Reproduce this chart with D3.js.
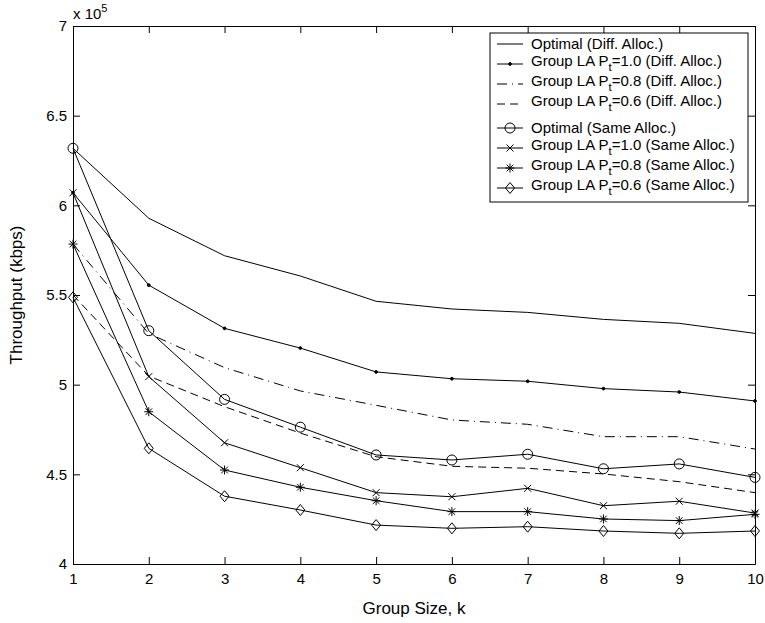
<!DOCTYPE html>
<html lang="en">
<head>
    <title>Throughput vs Group Size</title>
    <meta charset="utf-8"/>
    <script src="https://d3js.org/d3.v7.min.js"></script>
    <style>
        body { margin: 0; background: #fff; }
        svg { display: block; font-family: "Liberation Sans", Arial, Helvetica, sans-serif; }
    </style>
</head>
<body>

<svg width="765" height="623"></svg>

<script type="text/javascript">

    // datos (kbps)
    const groupSize = [1, 2, 3, 4, 5, 6, 7, 8, 9, 10];

    const optimalDiff = [631800, 592800, 571900, 560600, 546500, 542200, 540300, 536400, 534200, 528600];
    const la10Diff    = [607000, 555500, 531400, 520400, 507100, 503300, 501900, 497800, 495900, 490900];
    const la08Diff    = [578400, 528500, 509500, 496500, 488500, 480300, 477900, 471000, 471000, 464100];
    const la06Diff    = [550000, 504800, 487700, 473000, 459800, 454500, 453400, 450200, 445900, 439800];

    const optimalSame = [631800, 530100, 491800, 476300, 460800, 458000, 461200, 453100, 455800, 448300];
    const la10Same    = [607000, 504500, 467600, 453700, 439800, 437500, 442200, 432500, 435000, 428400];
    const la08Same    = [578400, 484900, 452400, 442800, 435300, 429200, 429200, 425100, 424200, 427700];
    const la06Same    = [548700, 464500, 437800, 430100, 421700, 419900, 420800, 418400, 417100, 418400];

    const yTicks = [400000, 450000, 500000, 550000, 600000, 650000, 700000];

    const legendLabels = [
        "Optimal (Diff. Alloc.)",
        "Group LA P_t=1.0 (Diff. Alloc.)",
        "Group LA P_t=0.8 (Diff. Alloc.)",
        "Group LA P_t=0.6 (Diff. Alloc.)",
        "Optimal (Same Alloc.)",
        "Group LA P_t=1.0 (Same Alloc.)",
        "Group LA P_t=0.8 (Same Alloc.)",
        "Group LA P_t=0.6 (Same Alloc.)"
    ];

    // valores de layout (ojo: "top" ya existe en window)
    const plotLeft = 73, plotRight = 755, plotTop = 26, plotBottom = 564;
    const tick = 7;

    const svg = d3.select("svg");

    svg.append("rect")
        .attr("width", 765).attr("height", 623)
        .attr("fill", "#fff");

    let xScale = d3.scaleLinear().domain([1, 10]).range([plotLeft, plotRight]);
    let yScale = d3.scaleLinear().domain([400000, 700000]).range([plotBottom, plotTop]);

    // ejes, ticks hacia adentro como matlab
    function styleAxis(g) {
        g.attr("font-family", null).attr("font-size", 15);
        g.selectAll("path, line").attr("stroke", "#000").attr("stroke-width", 1);
        g.selectAll("text").attr("fill", "#000");
    }

    svg.append("g")
        .attr("transform", "translate(0," + plotBottom + ")")
        .call(d3.axisBottom(xScale).tickValues(groupSize).tickFormat(d3.format("d"))
            .tickSizeInner(-tick).tickSizeOuter(0).tickPadding(9))
        .call(styleAxis);

    svg.append("g")
        .attr("transform", "translate(0," + plotTop + ")")
        .call(d3.axisTop(xScale).tickValues(groupSize).tickFormat("")
            .tickSizeInner(-tick).tickSizeOuter(0))
        .call(styleAxis);

    svg.append("g")
        .attr("transform", "translate(" + plotLeft + ",0)")
        .call(d3.axisLeft(yScale).tickValues(yTicks).tickFormat(d => String(d / 1e5))
            .tickSizeInner(-tick).tickSizeOuter(0).tickPadding(6))
        .call(styleAxis);

    svg.append("g")
        .attr("transform", "translate(" + plotRight + ",0)")
        .call(d3.axisRight(yScale).tickValues(yTicks).tickFormat("")
            .tickSizeInner(-tick).tickSizeOuter(0))
        .call(styleAxis);

    // multiplicador x 10^5
    let mult = svg.append("text")
        .attr("x", plotLeft).attr("y", 19)
        .attr("font-size", 15)
        .text("x 10");
    mult.append("tspan").attr("dy", -7).attr("font-size", 11).text("5");

    // etiquetas de ejes
    svg.append("text")
        .attr("x", (plotLeft + plotRight) / 2).attr("y", 614)
        .attr("text-anchor", "middle")
        .attr("font-size", 17)
        .text("Group Size, k");

    svg.append("text")
        .attr("transform", "translate(22," + ((plotTop + plotBottom) / 2) + ") rotate(-90)")
        .attr("text-anchor", "middle")
        .attr("font-size", 17)
        .text("Throughput (kbps)");

    // marcadores
    function markerPath(type) {
        if (type === "circle") return d3.symbol().type(d3.symbolCircle).size(Math.PI * 25)();
        if (type === "times") return "M-3.5,-3.5L3.5,3.5M-3.5,3.5L3.5,-3.5";
        if (type === "star") return "M0,-4.5L0,4.5M-4.5,0L4.5,0M-3.3,-3.3L3.3,3.3M-3.3,3.3L3.3,-3.3";
        if (type === "diamond") return "M0,-5.5L4.5,0L0,5.5L-4.5,0Z";
        if (type === "dot") return d3.symbol().type(d3.symbolCircle).size(6)();
        return null;
    }

    const series = [
        {values: optimalDiff, dash: null,         marker: null},
        {values: la10Diff,    dash: null,         marker: "dot"},
        {values: la08Diff,    dash: "10,5,1,5",   marker: null},
        {values: la06Diff,    dash: "8,5",        marker: null},
        {values: optimalSame, dash: null,         marker: "circle"},
        {values: la10Same,    dash: null,         marker: "times"},
        {values: la08Same,    dash: null,         marker: "star"},
        {values: la06Same,    dash: null,         marker: "diamond"}
    ];

    let line = d3.line()
        .x((d, i) => xScale(groupSize[i]))
        .y(d => yScale(d));

    series.forEach(function (s) {
        svg.append("path")
            .attr("d", line(s.values))
            .attr("fill", "none")
            .attr("stroke", "#000")
            .attr("stroke-width", 1)
            .attr("stroke-dasharray", s.dash);

        if (s.marker) {
            svg.append("g").selectAll("path")
                .data(s.values)
                .join("path")
                .attr("transform", (d, i) => "translate(" + xScale(groupSize[i]) + "," + yScale(d) + ")")
                .attr("d", markerPath(s.marker))
                .attr("fill", s.marker === "dot" ? "#000" : "none")
                .attr("stroke", "#000")
                .attr("stroke-width", 1);
        }
    });

    // leyenda
    let legend = svg.append("g");
    legend.append("rect")
        .attr("x", 490).attr("y", 33)
        .attr("width", 258).attr("height", 169)
        .attr("fill", "#fff")
        .attr("stroke", "#000")
        .attr("stroke-width", 1);

    legendLabels.forEach(function (label, i) {
        const s = series[i];
        const ly = 44 + i * 20 + (i >= 4 ? 4 : 0);
        const hasSub = label.indexOf("_t") >= 0;

        legend.append("line")
            .attr("x1", 497).attr("x2", 523)
            .attr("y1", ly).attr("y2", ly)
            .attr("stroke", "#000")
            .attr("stroke-width", 1)
            .attr("stroke-dasharray", s.dash);

        if (s.marker) {
            legend.append("path")
                .attr("transform", "translate(510," + ly + ")")
                .attr("d", markerPath(s.marker))
                .attr("fill", s.marker === "dot" ? "#000" : "none")
                .attr("stroke", "#000");
        }

        let t = legend.append("text")
            .attr("x", 531)
            .attr("y", ly + 5.3 - (hasSub ? 3 : 0))
            .attr("font-size", 15);

        if (hasSub) {
            const parts = label.split("_t");
            t.append("tspan").text(parts[0]);
            t.append("tspan").attr("dy", 5).attr("font-size", 11.5).text("t");
            t.append("tspan").attr("dy", -5).text(parts[1]);
        } else {
            t.text(label);
        }
    });

</script>
</body>
</html>
